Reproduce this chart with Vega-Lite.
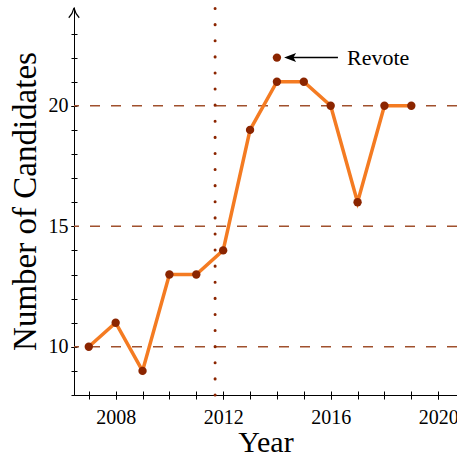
{
  "$schema": "https://vega.github.io/schema/vega-lite/v6.json",
  "width": 383,
  "height": 388,
  "autosize": "none",
  "padding": {"left": 74, "top": 7, "right": 0, "bottom": 64},
  "background": "white",
  "datasets": {
    "votes": [
      {"Year": 2007, "Candidates": 10},
      {"Year": 2008, "Candidates": 11},
      {"Year": 2009, "Candidates": 9},
      {"Year": 2010, "Candidates": 13},
      {"Year": 2011, "Candidates": 13},
      {"Year": 2012, "Candidates": 14},
      {"Year": 2013, "Candidates": 19},
      {"Year": 2014, "Candidates": 21},
      {"Year": 2015, "Candidates": 21},
      {"Year": 2016, "Candidates": 20},
      {"Year": 2017, "Candidates": 16},
      {"Year": 2018, "Candidates": 20},
      {"Year": 2019, "Candidates": 20}
    ],
    "grid": [{"Candidates": 10}, {"Candidates": 15}, {"Candidates": 20}],
    "divider": [{"Year": 2011.7, "lo": 8, "hi": 24.1}],
    "revote": [{"Year": 2014, "Candidates": 22}],
    "pointer": [{"from": 2014.4, "to": 2016.27, "head": 2014.49, "text": 2016.61, "Candidates": 22, "label": "Revote"}],
    "axistip": [{"Year": 2006.45, "Candidates": 23.85}]
  },
  "resolve": {
    "scale": {"x": "independent", "y": "independent"},
    "axis": {"x": "independent", "y": "independent"}
  },
  "layer": [
    {
      "data": {"name": "votes"},
      "mark": {"type": "point", "opacity": 0},
      "encoding": {
        "x": {"field": "Year", "type": "quantitative", "scale": {"domain": [2006.45, 2020.7], "nice": false, "zero": false},
          "axis": {"orient": "bottom", "title": null, "labels": false, "domain": true, "grid": false, "tickSize": 4,
            "values": [2007, 2008, 2009, 2010, 2011, 2012, 2013, 2014, 2015, 2016, 2017, 2018, 2019, 2020]}
        },
        "y": {"field": "Candidates", "type": "quantitative", "scale": {"domain": [8, 24.1], "nice": false, "zero": false},
          "axis": {"orient": "left", "title": null, "labels": false, "domain": true, "grid": false, "tickSize": 3,
            "values": [8, 9, 10, 11, 12, 13, 14, 15, 16, 17, 18, 19, 20, 21, 22, 23]}
        }
      }
    },
    {
      "data": {"name": "votes"},
      "mark": {"type": "point", "opacity": 0},
      "encoding": {
        "x": {"field": "Year", "type": "quantitative", "scale": {"domain": [2006.45, 2020.7], "nice": false, "zero": false},
          "axis": {"orient": "bottom", "title": null, "labels": false, "domain": false, "grid": false, "tickSize": -4,
            "values": [2007, 2008, 2009, 2010, 2011, 2012, 2013, 2014, 2015, 2016, 2017, 2018, 2019, 2020]}
        },
        "y": {"field": "Candidates", "type": "quantitative", "scale": {"domain": [8, 24.1], "nice": false, "zero": false},
          "axis": {"orient": "left", "title": null, "labels": false, "domain": false, "grid": false, "tickSize": -3,
            "values": [8, 9, 10, 11, 12, 13, 14, 15, 16, 17, 18, 19, 20, 21, 22, 23]}
        }
      }
    },
    {
      "layer": [
        {
          "data": {"name": "grid"},
          "mark": {"type": "rule", "color": "#a0502d", "strokeWidth": 1.4, "strokeDash": [10, 11]},
          "encoding": {
            "y": {"field": "Candidates", "type": "quantitative", "scale": {"domain": [8, 24.1], "nice": false, "zero": false},
              "axis": {"orient": "left", "title": "Number of Candidates", "titleFontSize": 33, "values": [10, 15, 20], "labelOverlap": false, "domain": false, "grid": false, "tickSize": 3, "labelPadding": 3, "titlePadding": 6}
            }
          }
        },
        {
          "data": {"name": "divider"},
          "mark": {"type": "rule", "color": "#8b2500", "strokeWidth": 3, "strokeCap": "round", "strokeDash": [0.1, 16]},
          "encoding": {
            "x": {"field": "Year", "type": "quantitative", "scale": {"domain": [2006.45, 2020.7], "nice": false, "zero": false},
              "axis": {"orient": "bottom", "title": "Year", "titleFontSize": 30, "values": [2008, 2012, 2016, 2020], "format": "d", "labelOverlap": false, "domain": false, "grid": false, "tickSize": 4, "labelPadding": 8, "titlePadding": 0}
            },
            "y": {"field": "lo", "type": "quantitative"},
            "y2": {"field": "hi"}
          }
        },
        {
          "data": {"name": "votes"},
          "mark": {"type": "line", "color": "#f47b22", "strokeWidth": 3.5},
          "encoding": {
            "x": {"field": "Year", "type": "quantitative"},
            "y": {"field": "Candidates", "type": "quantitative"}
          }
        },
        {
          "data": {"name": "votes"},
          "mark": {"type": "point", "filled": true, "color": "#8b2500", "opacity": 1, "size": 70},
          "encoding": {
            "x": {"field": "Year", "type": "quantitative"},
            "y": {"field": "Candidates", "type": "quantitative"}
          }
        },
        {
          "data": {"name": "revote"},
          "mark": {"type": "point", "filled": true, "color": "#8b2500", "opacity": 1, "size": 70},
          "encoding": {
            "x": {"field": "Year", "type": "quantitative"},
            "y": {"field": "Candidates", "type": "quantitative"}
          }
        },
        {
          "data": {"name": "pointer"},
          "mark": {"type": "rule", "color": "black", "strokeWidth": 1.5},
          "encoding": {
            "x": {"field": "from", "type": "quantitative"},
            "x2": {"field": "to"},
            "y": {"field": "Candidates", "type": "quantitative"}
          }
        },
        {
          "data": {"name": "pointer"},
          "mark": {"type": "point", "shape": "M -1 0 L 1 -0.75 L 0.55 0 L 1 0.75 Z", "filled": true, "color": "black", "opacity": 1, "size": 144},
          "encoding": {
            "x": {"field": "head", "type": "quantitative"},
            "y": {"field": "Candidates", "type": "quantitative"}
          }
        },
        {
          "data": {"name": "pointer"},
          "mark": {"type": "text", "align": "left", "baseline": "middle", "font": "Liberation Serif", "fontSize": 22, "color": "black"},
          "encoding": {
            "x": {"field": "text", "type": "quantitative"},
            "y": {"field": "Candidates", "type": "quantitative"},
            "text": {"field": "label"}
          }
        },
        {
          "data": {"name": "axistip"},
          "mark": {"type": "point", "shape": "M -1 0.9 Q -0.25 0.1 0 -1 Q 0.25 0.1 1 0.9", "filled": false, "color": "black", "opacity": 1, "strokeWidth": 1.2, "size": 110},
          "encoding": {
            "x": {"field": "Year", "type": "quantitative"},
            "y": {"field": "Candidates", "type": "quantitative"}
          }
        }
      ]
    }
  ],
  "config": {
    "view": {"stroke": null},
    "axis": {
      "domainColor": "black",
      "domainWidth": 1,
      "tickColor": "black",
      "tickWidth": 1,
      "labelColor": "black",
      "titleColor": "black",
      "labelFont": "Liberation Serif",
      "titleFont": "Liberation Serif",
      "labelFontSize": 20,
      "titleFontWeight": "normal"
    }
  }
}
